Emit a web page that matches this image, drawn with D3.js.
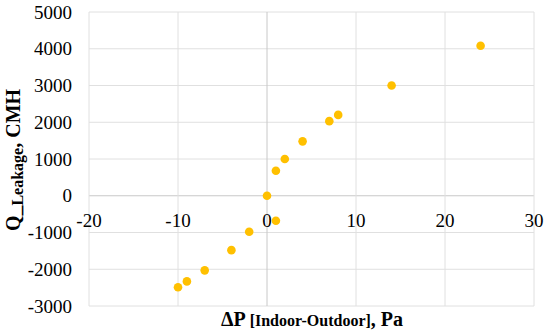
<!DOCTYPE html>
<html>
<head>
<meta charset="utf-8">
<script src="https://cdn.jsdelivr.net/npm/d3@7"></script>
<style>
  body { margin: 0; background: #fff; }
  svg text { font-family: "Liberation Serif", "DejaVu Serif", serif; fill: #000; }
</style>
</head>
<body>
<div id="chart"></div>
<script>
// data
var pressure = [24, 14, 8, 7, 4, 2, 1, 0, 1, -2, -4, -7, -9, -10];
var leakage  = [4080, 3000, 2200, 2030, 1480, 1000, 680, 0, -680, -980, -1480, -2030, -2330, -2490];
var xTicks = [-20, -10, 0, 10, 20, 30];
var yTicks = [-3000, -2000, -1000, 0, 1000, 2000, 3000, 4000, 5000];

function init() {
    var w = 550;
    var h = 336;

    var x = d3.scaleLinear().domain([-20, 30]).range([89, 534]);
    var y = d3.scaleLinear().domain([-3000, 5000]).range([306, 12]);

    var svg = d3.select("#chart")
                .append("svg")
                .attr("width", w)
                .attr("height", h)
                .attr("font-family", "Liberation Serif, serif");

    // gridlines
    svg.selectAll("line.gy")
       .data(yTicks)
       .enter()
       .append("line")
       .attr("x1", x(-20))
       .attr("x2", x(30))
       .attr("y1", function(d) { return y(d); })
       .attr("y2", function(d) { return y(d); })
       .style("stroke", function(d) { return d == 0 ? "#c8c8c8" : "#e0e0e0"; })
       .style("stroke-width", 1);

    svg.selectAll("line.gx")
       .data(xTicks)
       .enter()
       .append("line")
       .attr("y1", y(-3000))
       .attr("y2", y(5000))
       .attr("x1", function(d) { return x(d); })
       .attr("x2", function(d) { return x(d); })
       .style("stroke", function(d) { return d == 0 ? "#c8c8c8" : "#e0e0e0"; })
       .style("stroke-width", 1);

    // y tick labels
    svg.selectAll("text.yt")
       .data(yTicks)
       .enter()
       .append("text")
       .attr("x", 72)
       .attr("y", function(d) { return y(d); })
       .attr("dy", "0.35em")
       .attr("text-anchor", "end")
       .style("font-size", "19px")
       .text(function(d) { return d; });

    // x tick labels (below the zero line)
    svg.selectAll("text.xt")
       .data(xTicks)
       .enter()
       .append("text")
       .attr("x", function(d) { return x(d); })
       .attr("y", y(0) + 31)
       .attr("text-anchor", "middle")
       .style("font-size", "19px")
       .text(function(d) { return d; });

    // points
    svg.selectAll("circle")
       .data(pressure)
       .enter()
       .append("circle")
       .attr("cx", function(d) { return x(d); })
       .attr("cy", function(d, i) { return y(leakage[i]); })
       .attr("r", 4.3)
       .style("fill", "#ffc000");

    // x axis title
    var xt = svg.append("text")
                .attr("x", 312)
                .attr("y", 326)
                .attr("text-anchor", "middle")
                .style("font-weight", "bold")
                .style("font-size", "20px");
    xt.append("tspan").text("\u0394P ");
    xt.append("tspan").style("font-size", "16px").text("[Indoor-Outdoor]");
    xt.append("tspan").text(", Pa");

    // y axis title
    var yt = svg.append("text")
                .attr("transform", "translate(20,160) rotate(-90)")
                .attr("text-anchor", "middle")
                .style("font-weight", "bold")
                .style("font-size", "20px");
    yt.append("tspan").text("Q_");
    yt.append("tspan").attr("dy", 3).style("font-size", "16px").text("Leakage");
    yt.append("tspan").attr("dy", -3).text(", CMH");
}

window.onload = init;
</script>
</body>
</html>
